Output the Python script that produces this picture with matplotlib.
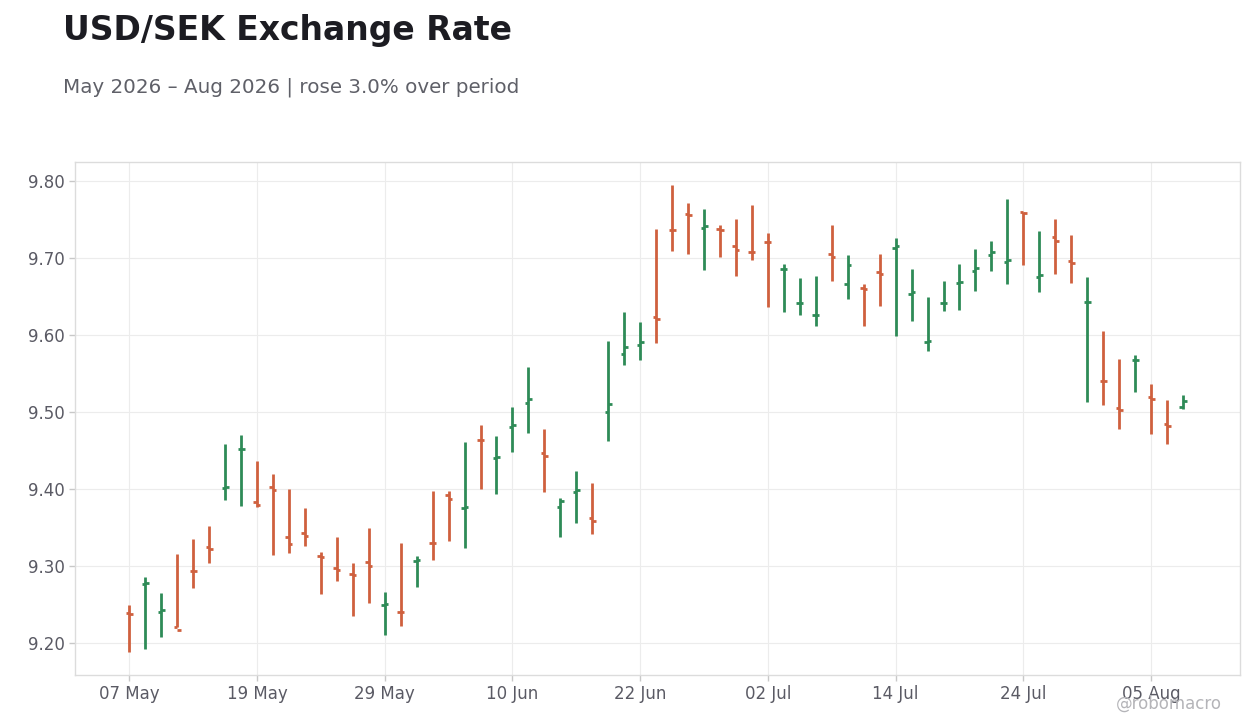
import matplotlib.pyplot as plt
import pandas as pd

# daily OHLC, business days from 07 May 2026
start_date = '2026-05-07'
opens = [9.239, 9.2766, 9.2411, 9.221, 9.294, 9.3242, 9.401, 9.4515, 9.3836, 9.403,
         9.3372, 9.3424, 9.313, 9.297, 9.2895, 9.3048, 9.2500, 9.2411, 9.307, 9.3302,
         9.3918, 9.3758, 9.4635, 9.4408, 9.481, 9.5121, 9.4472, 9.3771, 9.3965, 9.3619,
         9.5004, 9.5749, 9.5866, 9.6225, 9.7362, 9.7567, 9.739, 9.7372, 9.7152, 9.7074,
         9.7205, 9.685, 9.6408, 9.6252, 9.7048, 9.6664, 9.6612, 9.681, 9.7129, 9.6534,
         9.591, 9.6406, 9.6678, 9.6832, 9.7039, 9.6948, 9.7593, 9.6749, 9.7268, 9.6957,
         9.642, 9.5401, 9.5048, 9.5668, 9.519, 9.484, 9.5061]
highs = [9.2498, 9.286, 9.2654, 9.316, 9.3355, 9.3524, 9.4589, 9.4706, 9.4368, 9.42,
         9.4004, 9.3758, 9.3186, 9.3381, 9.3039, 9.3498, 9.2667, 9.3303, 9.3134, 9.3978,
         9.3978, 9.4615, 9.4835, 9.4693, 9.5069, 9.5576, 9.4784, 9.3883, 9.4238, 9.4082,
         9.5926, 9.6299, 9.6169, 9.7368, 9.7939, 9.7706, 9.7628, 9.742, 9.7498, 9.768,
         9.7316, 9.6913, 9.6732, 9.6758, 9.742, 9.7039, 9.6664, 9.7052, 9.7259, 9.6858,
         9.6496, 9.6703, 9.6922, 9.7116, 9.722, 9.7767, 9.7597, 9.7342, 9.7498, 9.729,
         9.6745, 9.6043, 9.568, 9.5732, 9.5368, 9.516, 9.5225]
lows = [9.189, 9.192, 9.2074, 9.2216, 9.271, 9.3043, 9.3853, 9.3775, 9.3762, 9.3139,
        9.3165, 9.3255, 9.2632, 9.2801, 9.2359, 9.2519, 9.21, 9.2229, 9.2723, 9.3074,
        9.332, 9.3229, 9.3996, 9.3931, 9.4485, 9.4723, 9.3957, 9.3372, 9.3554, 9.3411,
        9.4619, 9.5606, 9.5671, 9.5892, 9.7087, 9.7048, 9.684, 9.7009, 9.6762, 9.697,
        9.6359, 9.6294, 9.6251, 9.6108, 9.6697, 9.647, 9.6108, 9.6379, 9.5983, 9.6185,
        9.5789, 9.6315, 9.6328, 9.6573, 9.6832, 9.6655, 9.6905, 9.6554, 9.6788, 9.6671,
        9.5126, 9.5087, 9.4775, 9.5255, 9.471, 9.458, 9.5035]
closes = [9.238, 9.2775, 9.2437, 9.2165, 9.2935, 9.3216, 9.402, 9.4525, 9.3797, 9.3983,
          9.329, 9.3385, 9.3113, 9.2952, 9.289, 9.2996, 9.2505, 9.2403, 9.3078, 9.3297,
          9.3874, 9.3765, 9.463, 9.4413, 9.4836, 9.5173, 9.4433, 9.3848, 9.3983, 9.3589,
          9.51, 9.584, 9.5905, 9.6203, 9.7357, 9.7554, 9.7411, 9.7359, 9.71, 9.7069,
          9.72, 9.6855, 9.6413, 9.6257, 9.7009, 9.6909, 9.6599, 9.6793, 9.7147, 9.656,
          9.5916, 9.6411, 9.6683, 9.6862, 9.7069, 9.6966, 9.758, 9.6775, 9.7216, 9.6931,
          9.6425, 9.5396, 9.503, 9.5673, 9.5165, 9.4814, 9.5139]

dates = pd.bdate_range(start_date, periods=len(opens))
up_color = '#2e8b57'
down_color = '#cf603e'

fig = plt.figure(figsize=(12.6, 7.28), dpi=100)
ax = fig.add_axes([0.0595, 0.0728, 0.9245, 0.7047])

tick_len = 0.22
for i in range(len(opens)):
    c = up_color if closes[i] > opens[i] else down_color
    ax.vlines(i, lows[i], highs[i], color=c, linewidth=2)
    ax.hlines(opens[i], i - tick_len, i, color=c, linewidth=2)
    ax.hlines(closes[i], i, i + tick_len, color=c, linewidth=2)

# x axis on trading-day index, label every 8th session
tick_idx = list(range(0, len(dates), 8))
ax.set_xticks(tick_idx)
ax.set_xticklabels([dates[i].strftime('%d %b') for i in tick_idx])
ax.set_xlim(-3.4, len(opens) - 1 + 3.56)

pad = (max(highs) - min(lows)) * 0.05
ax.set_ylim(min(lows) - pad, max(highs) + pad)
ax.set_yticks([9.2, 9.3, 9.4, 9.5, 9.6, 9.7, 9.8])
ax.yaxis.set_major_formatter(plt.FormatStrFormatter('%.2f'))

ax.grid(True, color='#ececec', linewidth=0.8)
ax.set_axisbelow(True)
for s in ax.spines.values():
    s.set_color('#dcdcdc')
    s.set_linewidth(1)
ax.tick_params(colors='#c8c8c8', labelcolor='#5a5a64', labelsize=12, length=4, width=1)

fig.text(0.05, 0.945, 'USD/SEK Exchange Rate', fontsize=23.8, fontweight='bold',
         color='#1c1c22', ha='left', va='baseline')
fig.text(0.05, 0.873, 'May 2026 – Aug 2026 | rose 3.0% over period', fontsize=14.3,
         color='#5f6068', ha='left', va='baseline')
fig.text(0.97, 0.033, '@robomacro', fontsize=12, color='#b4b4b8', ha='right', va='center')

fig.savefig('out.png', dpi=100)
